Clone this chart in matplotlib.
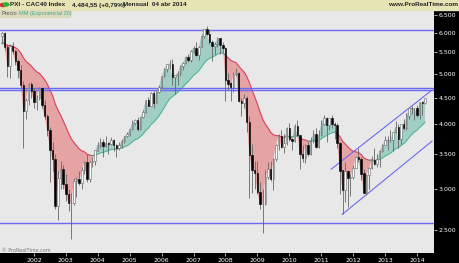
import numpy as np
import pandas as pd
import matplotlib
matplotlib.use('Agg')
from matplotlib import pyplot as plt
from matplotlib.patches import Rectangle, Circle
from matplotlib.ticker import FixedLocator, FixedFormatter, NullLocator

# monthly CAC40 candles, Jan 2001 .. Apr 2014
opens = [
    5926, 5998, 5633, 5180, 5644, 5528, 5301, 5091, 4767, 4234, 4449, 4784,
    4625, 4415, 4493, 4688, 4349, 4138, 3898, 3564, 3426, 2777, 3153, 3275,
    3064, 2938, 2821, 2824, 3110, 3135, 3084, 3268, 3386, 3134, 3375, 3393,
    3558, 3638, 3700, 3625, 3674, 3670, 3733, 3640, 3594, 3641, 3707, 3794,
    3821, 3913, 4027, 4067, 3908, 4120, 4229, 4451, 4344, 4600, 4400, 4613,
    4715, 4947, 5109, 5220, 5233, 4930, 4965, 5009, 5182, 5250, 5398, 5321,
    5542, 5609, 5444, 5634, 5925, 6104, 5976, 5751, 5662, 5716, 5848, 5671,
    5614, 4869, 4790, 4707, 4997, 5014, 4434, 4392, 4485, 4032, 3488, 3263,
    3218, 2962, 2807, 2807, 3159, 3278, 3140, 3426, 3653, 3795, 3608, 3680,
    3936, 3739, 3708, 3974, 3817, 3508, 3443, 3643, 3510, 3715, 3833, 3610,
    3805, 4005, 4110, 3989, 4107, 4007, 3982, 3672, 3256, 2982, 3242, 3155,
    3160, 3298, 3452, 3424, 3213, 2950, 3197, 3291, 3413, 3355, 3429, 3557,
    3641, 3733, 3723, 3731, 3857, 3949, 3739, 3993, 3934, 4143, 4299, 4296,
    4296, 4165, 4408, 4391,
]
highs = [
    6010, 6030, 5700, 5700, 5750, 5560, 5350, 5200, 4850, 4500, 4800, 4820,
    4700, 4550, 4720, 4700, 4450, 4180, 3950, 3700, 3500, 3250, 3390, 3330,
    3200, 3000, 2950, 3150, 3160, 3250, 3300, 3400, 3500, 3400, 3460, 3560,
    3700, 3760, 3750, 3800, 3700, 3770, 3750, 3660, 3700, 3750, 3800, 3860,
    3920, 4070, 4090, 4120, 4130, 4250, 4460, 4520, 4620, 4640, 4640, 4760,
    4960, 5120, 5230, 5310, 5330, 4980, 5060, 5200, 5260, 5420, 5460, 5550,
    5660, 5760, 5660, 5930, 6110, 6170, 6080, 5800, 5750, 5900, 5870, 5750,
    5640, 5020, 4830, 5030, 5120, 5050, 4500, 4570, 4530, 4140, 3660, 3390,
    3400, 3100, 3000, 3260, 3380, 3390, 3440, 3670, 3830, 3890, 3830, 3950,
    4020, 3760, 4000, 4080, 3820, 3640, 3670, 3700, 3770, 3900, 3930, 3900,
    4070, 4170, 4120, 4110, 4170, 4030, 4020, 3690, 3270, 3380, 3270, 3200,
    3330, 3480, 3600, 3460, 3280, 3200, 3310, 3480, 3590, 3500, 3560, 3660,
    3800, 3790, 3890, 3860, 4060, 4000, 4000, 4100, 4200, 4300, 4340, 4300,
    4360, 4420, 4440, 4500,
]
lows = [
    5700, 5550, 4930, 4900, 5450, 5200, 4900, 4700, 3600, 4100, 4350, 4500,
    4300, 4250, 4450, 4300, 4100, 3800, 3100, 3250, 2750, 2610, 3000, 3000,
    2850, 2720, 2400, 2790, 2900, 3050, 3000, 3200, 3100, 3100, 3300, 3330,
    3550, 3600, 3450, 3620, 3500, 3650, 3550, 3450, 3560, 3600, 3680, 3770,
    3800, 3900, 3980, 3880, 3890, 4110, 4200, 4330, 4340, 4300, 4390, 4600,
    4700, 4930, 5050, 5100, 4750, 4580, 4760, 4950, 5080, 5230, 5260, 5280,
    5490, 5400, 5320, 5620, 5870, 5930, 5720, 5300, 5450, 5630, 5450, 5500,
    4440, 4650, 4430, 4620, 4950, 4420, 4150, 4290, 3860, 2880, 2950, 3000,
    2930, 2750, 2470, 2790, 3130, 3110, 2990, 3390, 3570, 3600, 3520, 3640,
    3710, 3560, 3700, 3800, 3280, 3380, 3370, 3470, 3490, 3680, 3600, 3590,
    3800, 3990, 3700, 3900, 3930, 3740, 3600, 2940, 2690, 2830, 2770, 2910,
    3130, 3290, 3380, 3120, 2950, 2920, 3000, 3280, 3340, 3310, 3300, 3530,
    3640, 3570, 3700, 3550, 3850, 3600, 3670, 3900, 3900, 4100, 4190, 4080,
    4120, 4090, 4170, 4380,
]
closes = [
    5998, 5633, 5180, 5644, 5528, 5301, 5091, 4767, 4234, 4449, 4784, 4625,
    4415, 4493, 4688, 4349, 4138, 3898, 3564, 3426, 2777, 3153, 3275, 3064,
    2938, 2821, 2824, 3110, 3135, 3084, 3268, 3386, 3134, 3375, 3393, 3558,
    3638, 3700, 3625, 3674, 3670, 3733, 3640, 3594, 3641, 3707, 3794, 3821,
    3913, 4027, 4067, 3908, 4120, 4229, 4451, 4344, 4600, 4400, 4613, 4715,
    4947, 5109, 5220, 5233, 4930, 4965, 5009, 5182, 5250, 5398, 5321, 5542,
    5609, 5444, 5634, 5925, 6104, 5976, 5751, 5662, 5716, 5848, 5671, 5614,
    4869, 4790, 4707, 4997, 5014, 4434, 4392, 4485, 4032, 3488, 3263, 3218,
    2962, 2807, 2807, 3159, 3278, 3140, 3426, 3653, 3795, 3608, 3680, 3936,
    3739, 3708, 3974, 3817, 3508, 3443, 3643, 3510, 3715, 3833, 3610, 3805,
    4005, 4110, 3989, 4107, 4007, 3982, 3672, 3256, 2982, 3242, 3155, 3160,
    3298, 3452, 3424, 3213, 2950, 3197, 3291, 3413, 3355, 3429, 3557, 3641,
    3733, 3723, 3731, 3857, 3949, 3739, 3993, 3934, 4143, 4299, 4296, 4296,
    4165, 4408, 4391, 4484,
]
ema_start = 5700  # EMA level carried over from before 2001

hlines = [6075, 4694, 4646, 2580]
# trend channel: (start year, start price, end year, end price)
channel = [(2011.31, 3275, 2014.47, 4652), (2011.66, 2681, 2014.47, 3709)]

yticks = [2500, 3000, 3500, 4000, 4500, 5000, 5500, 6000, 6500]
years = list(range(2002, 2015))

n = len(closes)
x = 2001 + np.arange(n) / 12.0
o = np.array(opens, float)
h = np.array(highs, float)
l = np.array(lows, float)
c = np.array(closes, float)
ema = pd.Series([ema_start] + closes, dtype=float).ewm(span=20, adjust=False).mean().values[1:]

W, H = 460, 263
fig = plt.figure(figsize=(W / 100, H / 100), dpi=100, facecolor='black')
ax = fig.add_axes([0, 10 / H, 434 / W, 243 / H])
ax.set_facecolor('#e8e8e8')
ax.set_yscale('log')
ax.set_ylim(2258, 6637)
ax.set_xlim(2001 - 2 / 31.92, 2014 + 17 / 31.92)

green_fill, green_line = '#a2cfc5', '#4cb596'
red_fill, red_line = '#e6a3a3', '#d8405c'
ax.fill_between(x, c, ema, where=c >= ema, interpolate=True, color=green_fill, lw=0, zorder=1)
ax.fill_between(x, c, ema, where=c < ema, interpolate=True, color=red_fill, lw=0, zorder=1)
above = c >= ema
ema_g = np.where(above | np.roll(above, 1) | np.roll(above, -1), ema, np.nan)
ema_r = np.where(~above | np.roll(~above, 1) | np.roll(~above, -1), ema, np.nan)
ax.plot(x, ema_r, color=red_line, lw=0.8, zorder=2)
ax.plot(x, ema_g, color=green_line, lw=0.8, zorder=2)

for y in hlines:
    ax.axhline(y, color='#6a6af0', lw=1.0, zorder=3)
for x0, y0, x1, y1 in channel:
    ax.plot([x0, x1], [y0, y1], color='#6a6af0', lw=0.8, zorder=3)

up = c >= o
ax.vlines(x, l, h, color='#666666', lw=0.6, zorder=4)
bw = 0.045
ax.bar(x[up], np.abs(c - o)[up] + 1, bottom=np.minimum(o, c)[up], width=bw,
       color='white', edgecolor='#666666', lw=0.4, zorder=5)
ax.bar(x[~up], np.abs(c - o)[~up] + 1, bottom=np.minimum(o, c)[~up], width=bw,
       color='black', edgecolor='black', lw=0.4, zorder=5)

ax.yaxis.tick_right()
ax.yaxis.set_major_locator(FixedLocator(yticks))
ax.yaxis.set_major_formatter(FixedFormatter([f'{v:,}'.replace(',', '.') for v in yticks]))
ax.yaxis.set_minor_locator(NullLocator())
ax.set_xticks(years)
ax.set_xticklabels([str(y) for y in years])
ax.tick_params(axis='both', colors='white', labelsize=4.5, length=2, width=0.5, pad=1.5)
for s in ax.spines.values():
    s.set_visible(False)

# header bar and legend
fig.patches.append(Rectangle((0, 253 / H), 1, 10 / H, transform=fig.transFigure,
                             color='#e6e3b4', zorder=0))
fig.patches.append(Rectangle((0, 246 / H), 70 / W, 7 / H, transform=fig.transFigure,
                             color='#dcd9bd', zorder=10))
fig.patches.append(Circle((3 / W, 258 / H), 0.006, transform=fig.transFigure,
                          color='#d03030', zorder=11))
fig.patches.append(Circle((6 / W, 258.5 / H), 0.006, transform=fig.transFigure,
                          color='#30b030', zorder=11))
hy = 258 / H
hf = ['Liberation Sans Narrow', 'Liberation Sans', 'DejaVu Sans']
kw = dict(fontsize=4.6, fontweight='bold', color='#222222', va='center', family=hf)
fig.text(10 / W, hy, 'PXI - CAC40 Index', **kw)
fig.text(72 / W, hy, '4.484,55 (+0,79%)', **kw)
fig.text(123 / W, hy, 'Mensual  04 abr 2014', **kw)
fig.text(458 / W, hy, 'www.ProRealTime.com', ha='right', **kw)
fig.text(2 / W, 249.5 / H, 'Precio', fontsize=4, color='#555555', va='center', zorder=12, family=hf)
fig.text(19 / W, 249.5 / H, 'MM (Exponencial 20)', fontsize=4, color='#3fae8c', va='center',
         zorder=12, family=hf)
fig.text(2 / W, 12 / H, '© ProRealTime.com', fontsize=3.5, color='#777777', va='center')

fig.savefig('out.png', dpi=100, facecolor='black')
